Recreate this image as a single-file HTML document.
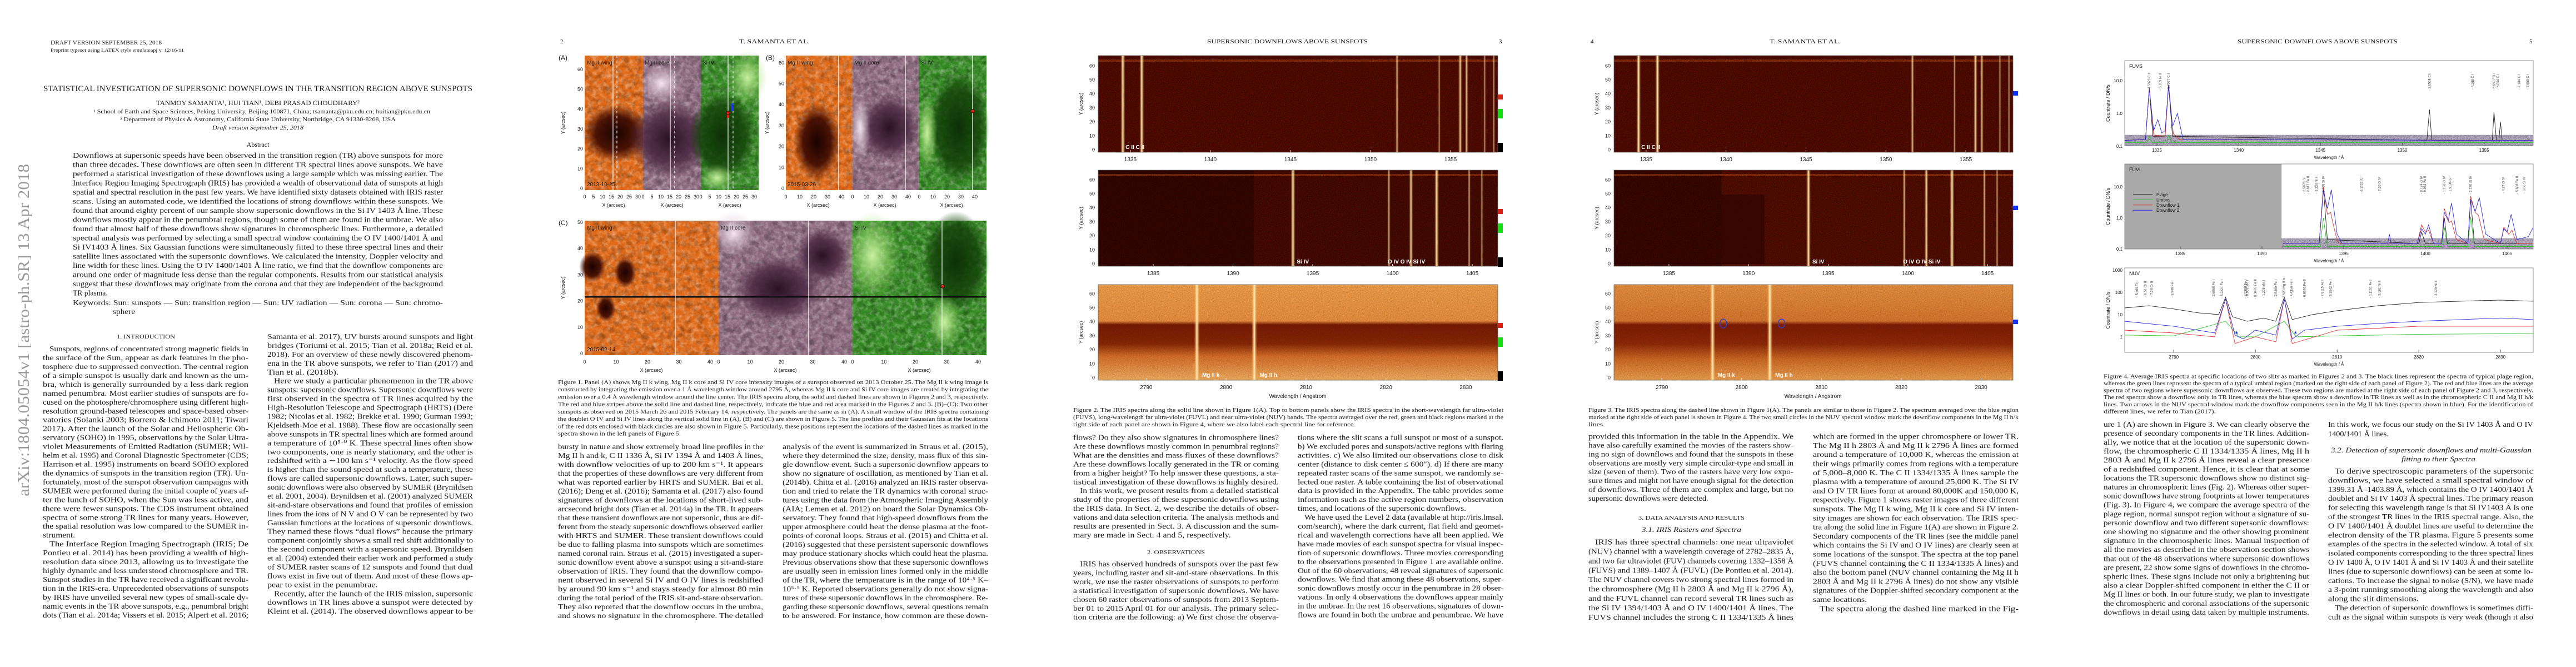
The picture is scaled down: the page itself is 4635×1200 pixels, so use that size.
<!DOCTYPE html>
<html><head><meta charset="utf-8"><title>Supersonic downflows paper pages</title>
<style>html,body{margin:0;padding:0;background:#fff;}svg{display:block;}</style></head>
<body>
<svg id="s" xmlns="http://www.w3.org/2000/svg" width="4635" height="1200" viewBox="0 0 4635 1200">
<defs>
<radialGradient id="spot" cx="50%" cy="50%" r="50%"><stop offset="0" stop-color="#1a0200"/><stop offset="0.6" stop-color="#3a0800" stop-opacity="0.9"/><stop offset="1" stop-color="#3a0800" stop-opacity="0"/></radialGradient>
<radialGradient id="pspot" cx="50%" cy="50%" r="50%"><stop offset="0" stop-color="#2a1025"/><stop offset="0.6" stop-color="#4a2842" stop-opacity="0.85"/><stop offset="1" stop-color="#4a2842" stop-opacity="0"/></radialGradient>
<radialGradient id="gspot" cx="50%" cy="50%" r="50%"><stop offset="0" stop-color="#0c3006"/><stop offset="0.7" stop-color="#124008" stop-opacity="0.8"/><stop offset="1" stop-color="#124008" stop-opacity="0"/></radialGradient>
<radialGradient id="glight" cx="50%" cy="50%" r="50%"><stop offset="0" stop-color="#c8f0a0"/><stop offset="1" stop-color="#a0e070" stop-opacity="0"/></radialGradient>
<radialGradient id="plight" cx="50%" cy="50%" r="50%"><stop offset="0" stop-color="#f4e6f0"/><stop offset="1" stop-color="#e0c8d8" stop-opacity="0"/></radialGradient>
<linearGradient id="nuv3" x1="0" y1="0" x2="0" y2="1"><stop offset="0" stop-color="#f2a04a"/><stop offset="0.38" stop-color="#eb9040"/><stop offset="0.42" stop-color="#7a1a04"/><stop offset="0.62" stop-color="#8a2806"/><stop offset="0.75" stop-color="#d8702a"/><stop offset="1" stop-color="#f4b060"/></linearGradient>
<linearGradient id="nuv4" x1="0" y1="0" x2="0" y2="1"><stop offset="0" stop-color="#e89040"/><stop offset="0.38" stop-color="#d87830"/><stop offset="0.42" stop-color="#801c04"/><stop offset="0.62" stop-color="#902a08"/><stop offset="0.78" stop-color="#d06a24"/><stop offset="1" stop-color="#eea050"/></linearGradient>
<linearGradient id="lineglow" x1="0" y1="0" x2="1" y2="0"><stop offset="0" stop-color="#ffb040" stop-opacity="0"/><stop offset="0.5" stop-color="#fff0c0"/><stop offset="1" stop-color="#ffb040" stop-opacity="0"/></linearGradient>
<filter id="fine" x="0" y="0" width="100%" height="100%"><feTurbulence type="fractalNoise" baseFrequency="0.8" numOctaves="2" seed="3"/><feColorMatrix type="matrix" values="0 0 0 0 0  0 0 0 0 0  0 0 0 0 0  1.6 0 0 0 -0.55"/></filter>
<filter id="coarse" x="0" y="0" width="100%" height="100%"><feTurbulence type="fractalNoise" baseFrequency="0.12" numOctaves="3" seed="7"/><feColorMatrix type="matrix" values="0 0 0 0 1  0 0 0 0 1  0 0 0 0 1  1.4 0 0 0 -0.55"/></filter>
<filter id="coarseDark" x="0" y="0" width="100%" height="100%"><feTurbulence type="fractalNoise" baseFrequency="0.09" numOctaves="3" seed="11"/><feColorMatrix type="matrix" values="0 0 0 0 0  0 0 0 0 0  0 0 0 0 0  1.4 0 0 0 -0.6"/></filter>
</defs>
</svg>
<script>
const NS='http://www.w3.org/2000/svg';
const S=document.getElementById('s');
function mk(tag,a,name,p){const e=document.createElementNS(NS,tag);for(const k in a)e.setAttribute(k,a[k]);


(p||S).appendChild(e);return e;}
function T(x,y,s,fs,o){o=o||{};const a={x:x,y:y,'font-size':fs,'font-family':o.ff||'"Liberation Serif", serif',fill:o.fill||'#1a1a1a'};
if(o.anchor)a['text-anchor']=o.anchor;if(o.italic)a['font-style']='italic';if(o.bold)a['font-weight']='bold';if(o.rot!==undefined)a.transform='rotate('+o.rot+' '+x+' '+y+')';
const e=mk('text',a,o.name||'text-line',o.p);if(o.len){e.setAttribute('textLength',o.len);e.setAttribute('lengthAdjust','spacingAndGlyphs');}e.textContent=s;return e;}
function col(name,x,w,y0,step,lines,fs){
  const just=lines.filter(s=>!s.endsWith('|')).map(s=>s.replace(/^\^/,''));
  const avg=just.reduce((a,s)=>a+s.length,0)/Math.max(1,just.length);
  lines.forEach((s,i)=>{const ind=s[0]==='^',last=s.endsWith('|');s=s.replace(/^\^/,'').replace(/\|$/,'');
    const xx=x+(ind?12:0),ww=w-(ind?12:0);const len=last?Math.min(ww,s.length*w/avg):ww;
    T(xx,y0+i*step+fs*0.36,s,fs,{len:len,name:name+'-line'});});
}
/* ---------------- PAGE 1 ---------------- */
T(91,80,'DRAFT VERSION SEPTEMBER 25, 2018',10,{len:200,name:'draft-header'});
T(91,93,'Preprint typeset using LATEX style emulateapj v. 12/16/11',8,{len:240,name:'preprint-note'});
T(78,164,'STATISTICAL INVESTIGATION OF SUPERSONIC DOWNFLOWS IN THE TRANSITION REGION ABOVE SUNSPOTS',15,{len:772,name:'paper-title'});
T(281,189,'TANMOY SAMANTA¹, HUI TIAN¹, DEBI PRASAD CHOUDHARY²',12,{len:366,name:'authors'});
T(168,204,'¹ School of Earth and Space Sciences, Peking University, Beijing 100871, China; tsamanta@pku.edu.cn; huitian@pku.edu.cn',10,{len:606,name:'affiliation-1'});
T(216,218,'² Department of Physics & Astronomy, California State University, Northridge, CA 91330-8268, USA',10,{len:496,name:'affiliation-2'});
T(382,233,'Draft version September 25, 2018',10,{len:164,italic:true,name:'draft-date'});
T(464,264,'Abstract',12,{anchor:'middle',name:'abstract-heading'});
const abstractLines=["Downflows at supersonic speeds have been observed in the transition region (TR) above sunspots for more","than three decades. These downflows are often seen in different TR spectral lines above sunspots. We have","performed a statistical investigation of these downflows using a large sample which was missing earlier. The","Interface Region Imaging Spectrograph (IRIS) has provided a wealth of observational data of sunspots at high","spatial and spectral resolution in the past few years. We have identified sixty datasets obtained with IRIS raster","scans. Using an automated code, we identified the locations of strong downflows within these sunspots. We","found that around eighty percent of our sample show supersonic downflows in the Si IV 1403 Å line. These","downflows mostly appear in the penumbral regions, though some of them are found in the umbrae. We also","found that almost half of these downflows show signatures in chromospheric lines. Furthermore, a detailed","spectral analysis was performed by selecting a small spectral window containing the O IV 1400/1401 Å and","Si IV1403 Å lines. Six Gaussian functions were simultaneously fitted to these three spectral lines and their","satellite lines associated with the supersonic downflows. We calculated the intensity, Doppler velocity and","line width for these lines. Using the O IV 1400/1401 Å line ratio, we find that the downflow components are","around one order of magnitude less dense than the regular components. Results from our statistical analysis","suggest that these downflows may originate from the corona and that they are independent of the background","TR plasma.|"];
col('abstract',131,666,279,16.5,abstractLines,14);
T(131,549,'Keywords: Sun: sunspots — Sun: transition region — Sun: UV radiation — Sun: corona — Sun: chromo-',14,{len:666,name:'keywords'});
T(203,565,'sphere',14,{len:40,name:'keywords'});
T(52,893,'arXiv:1804.05054v1  [astro-ph.SR]  13 Apr 2018',29,{len:598,rot:-90,fill:'#9a9a9a',name:'arxiv-stamp'});
T(210,609,'1. INTRODUCTION',10,{len:105,name:'section-heading'});
col('intro-col1',77,370,627,15.96,["^Sunspots, regions of concentrated strong magnetic fields in","the surface of the Sun, appear as dark features in the pho-","tosphere due to suppressed convection. The central region","of a simple sunspot is usually dark and known as the um-","bra, which is generally surrounded by a less dark region","named penumbra. Most earlier studies of sunspots are fo-","cused on the photosphere/chromosphere using different high-","resolution ground-based telescopes and space-based obser-","vatories (Solanki 2003; Borrero & Ichimoto 2011; Tiwari","2017). After the launch of the Solar and Heliospheric Ob-","servatory (SOHO) in 1995, observations by the Solar Ultra-","violet Measurements of Emitted Radiation (SUMER; Wil-","helm et al. 1995) and Coronal Diagnostic Spectrometer (CDS;","Harrison et al. 1995) instruments on board SOHO explored","the dynamics of sunspots in the transition region (TR). Un-","fortunately, most of the sunspot observation campaigns with","SUMER were performed during the initial couple of years af-","ter the lunch of SOHO, when the Sun was less active, and","there were fewer sunspots. The CDS instrument obtained","spectra of some strong TR lines for many years. However,","the spatial resolution was low compared to the SUMER in-","strument.|","^The Interface Region Imaging Spectrograph (IRIS; De","Pontieu et al. 2014) has been providing a wealth of high-","resolution data since 2013, allowing us to investigate the","highly dynamic and less understood chromosphere and TR.","Sunspot studies in the TR have received a significant revolu-","tion in the IRIS-era. Unprecedented observations of sunspots","by IRIS have unveiled several new types of small-scale dy-","namic events in the TR above sunspots, e.g., penumbral bright","dots (Tian et al. 2014a; Vissers et al. 2015; Alpert et al. 2016;"],14);
col('intro-col2',481,370,605,15.94,["Samanta et al. 2017), UV bursts around sunspots and light","bridges (Toriumi et al. 2015; Tian et al. 2018a; Reid et al.","2018). For an overview of these newly discovered phenom-","ena in the TR above sunspots, we refer to Tian (2017) and","Tian et al. (2018b).|","^Here we study a particular phenomenon in the TR above","sunspots: supersonic downflows. Supersonic downflows were","first observed in the spectra of TR lines acquired by the","High-Resolution Telescope and Spectrograph (HRTS) (Dere","1982; Nicolas et al. 1982; Brekke et al. 1990; Gurman 1993;","Kjeldseth-Moe et al. 1988). These flow are occasionally seen","above sunspots in TR spectral lines which are formed around","a temperature of 10⁵·⁰ K. These spectral lines often show","two components, one is nearly stationary, and the other is","redshifted with a ∼100 km s⁻¹ velocity. As the flow speed","is higher than the sound speed at such a temperature, these","flows are called supersonic downflows. Later, such super-","sonic downflows were also observed by SUMER (Brynildsen","et al. 2001, 2004). Brynildsen et al. (2001) analyzed SUMER","sit-and-stare observations and found that profiles of emission","lines from the ions of N V and O V can be represented by two","Gaussian functions at the locations of supersonic downflows.","They named these flows “dual flows” because the primary","component conjointly shows a small red shift additionally to","the second component with a supersonic speed. Brynildsen","et al. (2004) extended their earlier work and performed a study","of SUMER raster scans of 12 sunspots and found that dual","flows exist in five out of them. And most of these flows ap-","pear to exist in the penumbrae.|","^Recently, after the launch of the IRIS mission, supersonic","downflows in TR lines above a sunspot were detected by","Kleint et al. (2014). The observed downflows appear to be"],14);

/* ---------------- PAGE 2 : Figure 1 ---------------- */
T(1008,78,'2',11,{name:'page-number'});
T(1330,78,'T. SAMANTA ET AL.',11,{len:127,name:'running-header'});
function panel(x,y,w,h,kind,name){
  const g=mk('g',{},name);
  const base={wing:'#e06a18',core:'#8e6a80',si:'#348a22'}[kind];
  mk('rect',{x:x,y:y,width:w,height:h,fill:base},name+'-bg',g);
  mk('rect',{x:x,y:y,width:w,height:h,filter:'url(#coarse)',opacity:0.55},name+'-texture-light',g);
  mk('rect',{x:x,y:y,width:w,height:h,filter:'url(#coarseDark)',opacity:0.45},name+'-texture-dark',g);
  return g;
}
function blob(g,cx,cy,rx,ry,grad,name){mk('ellipse',{cx:cx,cy:cy,rx:rx,ry:ry,fill:'url(#'+grad+')'},name,g);}
// Row A
let g=panel(1052,100,105,242,'wing','panel-a-mg-wing');blob(g,1108,240,60,52,'spot','umbra');
g=panel(1157,100,104,242,'core','panel-a-mg-core');blob(g,1205,250,75,70,'pspot','umbra');blob(g,1190,150,40,35,'plight','plage');
g=panel(1261,100,104,242,'si','panel-a-si-iv');blob(g,1300,245,60,80,'gspot','umbra');blob(g,1345,140,35,50,'glight','loops');blob(g,1290,320,30,25,'glight','loops');
// Row B
g=panel(1414,100,120,242,'wing','panel-b-mg-wing');blob(g,1470,255,42,70,'spot','umbra');
g=panel(1534,100,120,242,'core','panel-b-mg-core');blob(g,1600,230,55,60,'pspot','umbra');blob(g,1548,230,18,60,'plight','plage');
g=panel(1654,100,121,242,'si','panel-b-si-iv');blob(g,1725,230,55,100,'gspot','umbra');blob(g,1668,240,18,70,'glight','plage');
// Row C
g=panel(1052,397,241,242,'wing','panel-c-mg-wing');blob(g,1066,480,24,28,'spot','umbra');blob(g,1125,490,20,28,'spot','umbra');blob(g,1090,555,18,24,'spot','umbra');
g=panel(1293,397,241,242,'core','panel-c-mg-core');blob(g,1480,460,50,50,'pspot','umbra');blob(g,1320,420,40,40,'plight','plage');blob(g,1400,520,80,60,'pspot','penumbra');
g=panel(1534,397,241,242,'si','panel-c-si-iv');blob(g,1570,460,50,80,'glight','plage');blob(g,1720,470,60,90,'gspot','umbra');blob(g,1700,580,30,50,'glight','loop');
mk('rect',{x:1052,y:533,width:723,height:2.5,fill:'#111'},'data-gap-line');
// slit lines
const slitX=[1103,1206,1310,1509,1629,1750,1215,1455,1695];
const slitY0=[100,100,100,100,100,100,397,397,397];
slitX.forEach((x,i)=>{mk('line',{x1:x,y1:slitY0[i],x2:x,y2:slitY0[i]+242,stroke:'#fff','stroke-width':1.2},'solid-slit-line');});
[1110,1214,1319].forEach(x=>{mk('line',{x1:x,y1:100,x2:x,y2:342,stroke:'#fff','stroke-width':1.2,'stroke-dasharray':'5 4'},'dashed-slit-line');});
mk('rect',{x:1316,y:186,width:4,height:14,fill:'#1c3cf0'},'blue-stripe');
mk('rect',{x:1308,y:200,width:4,height:12,fill:'#e02010'},'red-stripe');
[[1310,203],[1750,200],[1696,515]].forEach(p=>{mk('circle',{cx:p[0],cy:p[1],r:3.2,fill:'#e02010',stroke:'#111','stroke-width':0.8},'downflow-dot');});
// panel labels
[['Mg II wing',1056],['Mg II core',1160],['Si IV',1264],['Mg II wing',1417],['Mg II core',1537],['Si IV',1657]].forEach(l=>T(l[1],116,l[0],10,{ff:'"Liberation Sans", sans-serif',name:'panel-label'}));
[['Mg II wing',1056],['Mg II core',1297],['Si IV',1538]].forEach(l=>T(l[1],413,l[0],10,{ff:'"Liberation Sans", sans-serif',name:'panel-label'}));
T(1056,335,'2013-10-25',10,{ff:'"Liberation Sans", sans-serif',name:'date-label'});
T(1417,335,'2015-03-26',10,{ff:'"Liberation Sans", sans-serif',name:'date-label'});
T(1056,632,'2015-02-14',10,{ff:'"Liberation Sans", sans-serif',name:'date-label'});
T(1005,108,'(A)',12,{ff:'"Liberation Sans", sans-serif',name:'panel-tag'});
T(1378,108,'(B)',12,{ff:'"Liberation Sans", sans-serif',name:'panel-tag'});
T(1005,405,'(C)',12,{ff:'"Liberation Sans", sans-serif',name:'panel-tag'});
const fig1YTicksA=[0,10,20,30,40,50,60];
const fig1YTicksC=[0,10,20,30,40,50];
fig1YTicksA.forEach(v=>{T(1049,339-v*3.57+3,String(v),9,{anchor:'end',ff:'"Liberation Sans", sans-serif',name:'y-tick-label'});T(1411,339-v*3.77+3,String(v),9,{anchor:'end',ff:'"Liberation Sans", sans-serif',name:'y-tick-label'});});
fig1YTicksC.forEach(v=>T(1049,636-v*4.72+3,String(v),9,{anchor:'end',ff:'"Liberation Sans", sans-serif',name:'y-tick-label'}));
[[1016,221],[1383,221],[1016,518]].forEach(p=>T(p[0],p[1],'Y (arcsec)',9,{anchor:'middle',rot:-90,ff:'"Liberation Sans", sans-serif',name:'y-axis-title'}));
const fig1XTicksA=[0,5,10,15,20,25,30];
const fig1XTicks=[0,10,20,30,40];
[1052,1157,1261].forEach(x0=>{fig1XTicksA.forEach(v=>T(x0+v*3.2,357,String(v),9,{anchor:'middle',ff:'"Liberation Sans", sans-serif',name:'x-tick-label'}));T(x0+52,372,'X (arcsec)',9,{anchor:'middle',ff:'"Liberation Sans", sans-serif',name:'x-axis-title'});});
[1414,1534,1654].forEach(x0=>{fig1XTicks.forEach(v=>T(x0+v*2.5,357,String(v),9,{anchor:'middle',ff:'"Liberation Sans", sans-serif',name:'x-tick-label'}));T(x0+58,372,'X (arcsec)',9,{anchor:'middle',ff:'"Liberation Sans", sans-serif',name:'x-axis-title'});});
[1052,1293,1534].forEach(x0=>{fig1XTicks.forEach(v=>T(x0+v*5.65,654,String(v),9,{anchor:'middle',ff:'"Liberation Sans", sans-serif',name:'x-tick-label'}));T(x0+120,669,'X (arcsec)',9,{anchor:'middle',ff:'"Liberation Sans", sans-serif',name:'x-axis-title'});});
col('fig1-caption',1004,774,687,13.25,["Figure 1. Panel (A) shows Mg II k wing, Mg II k core and Si IV core intensity images of a sunspot observed on 2013 October 25. The Mg II k wing image is","constructed by integrating the emission over a 1 Å wavelength window around 2795 Å, whereas Mg II k core and Si IV core images are created by integrating the","emission over a 0.4 Å wavelength window around the line center. The IRIS spectra along the solid and dashed lines are shown in Figures 2 and 3, respectively.","The red and blue stripes above the solid line and dashed line, respectively, indicate the blue and red area marked in the Figures 2 and 3. (B)–(C): Two other","sunspots as observed on 2015 March 26 and 2015 February 14, respectively. The panels are the same as in (A). A small window of the IRIS spectra containing","the doublet O IV and Si IV lines along the vertical solid line in (A), (B) and (C) are shown in Figure 5. The line profiles and their Gaussian fits at the locations","of the red dots enclosed with black circles are also shown in Figure 5. Particularly, these positions represent the locations of the dashed lines as marked in the","spectra shown in the left panels of Figure 5.|"],10.5);
col('page2-col1',1004,369,803,16.0,["bursty in nature and show extremely broad line profiles in the","Mg II h and k, C II 1336 Å, Si IV 1394 Å and 1403 Å lines,","with downflow velocities of up to 200 km s⁻¹. It appears","that the properties of these downflows are very different from","what was reported earlier by HRTS and SUMER. Bai et al.","(2016); Deng et al. (2016); Samanta et al. (2017) also found","signatures of downflows at the locations of short-lived sub-","arcsecond bright dots (Tian et al. 2014a) in the TR. It appears","that these transient downflows are not supersonic, thus are dif-","ferent from the steady supersonic downflows observed earlier","with HRTS and SUMER. These transient downflows could","be due to falling plasma into sunspots which are sometimes","named coronal rain. Straus et al. (2015) investigated a super-","sonic downflow event above a sunspot using a sit-and-stare","observation of IRIS. They found that the downflow compo-","nent observed in several Si IV and O IV lines is redshifted","by around 90 km s⁻¹ and stays steady for almost 80 min","during the total period of the IRIS sit-and-stare observation.","They also reported that the downflow occurs in the umbra,","and shows no signature in the chromosphere. The detailed"],14);
col('page2-col2',1408,370,803,16.0,["analysis of the event is summarized in Straus et al. (2015),","where they determined the size, density, mass flux of this sin-","gle downflow event. Such a supersonic downflow appears to","show no signature of oscillation, as mentioned by Tian et al.","(2014b). Chitta et al. (2016) analyzed an IRIS raster observa-","tion and tried to relate the TR dynamics with coronal struc-","tures using the data from the Atmospheric Imaging Assembly","(AIA; Lemen et al. 2012) on board the Solar Dynamics Ob-","servatory. They found that high-speed downflows from the","upper atmosphere could heat the dense plasma at the foot-","points of coronal loops. Straus et al. (2015) and Chitta et al.","(2016) suggested that these persistent supersonic downflows","may produce stationary shocks which could heat the plasma.","Previous observations show that these supersonic downflows","are usually seen in emission lines formed only in the middle","of the TR, where the temperature is in the range of 10⁴·⁵ K–","10⁵·⁵ K. Reported observations generally do not show signa-","tures of these supersonic downflows in the chromosphere. Re-","garding these supersonic downflows, several questions remain","to be answered. For instance, how common are these down-"],14);

/* ---------------- PAGES 3-4 : spectral images ---------------- */
const fuvsLines=[1334.53,1335.71,1351.66,1354.29,1355.6,1356.0,1357.13,1357.7];
const fuvsInt=[1,1,0.6,0.3,0.75,0.6,0.3,0.3];
const fuvlLines=[1393.76,1399.77,1401.16,1402.77,1404.8,1405.6];
const fuvlInt=[1,0.5,0.8,1,0.45,0.35];
const nuvLines=[2796.35,2803.53];
const nuvInt=[1,1];
const heatYTicks=[0,10,20,30,40,50,60];
const fuvsTicks=[1335,1340,1345,1350,1355];
const fuvlTicks=[1385,1390,1395,1400,1405];
const nuvTicks=[2790,2800,2810,2820,2830];
function heat(x0,x1,y0,y1,l0,l1,lines,ints,ticks,bg,name,fuvlStart){
  const g=mk('g',{},name);
  const xs=l=>x0+(l-l0)/(l1-l0)*(x1-x0);
  mk('rect',{x:x0,y:y0,width:x1-x0,height:y1-y0,fill:bg},name+'-background',g);
  if(fuvlStart){mk('rect',{x:x0,y:y0,width:xs(fuvlStart)-x0,height:y1-y0,fill:'#2c0400',opacity:0.6},'no-data-region',g);}
  const isNuv=bg.indexOf('url')>=0;
  if(!isNuv) mk('rect',{x:x0,y:y0+7,width:x1-x0,height:4,fill:'#c8501a',opacity:0.5},'bright-row',g);
  mk('rect',{x:x0,y:y0,width:x1-x0,height:y1-y0,filter:'url(#fine)',opacity:isNuv?0.25:0.7},'noise-texture',g);
  lines.forEach((l,i)=>{const x=xs(l);const w=isNuv?5:1.5+2.5*ints[i];
    mk('rect',{x:x-w,y:y0,width:2*w,height:y1-y0,fill:'url(#lineglow)',opacity:0.45+0.55*ints[i]},'emission-line',g);});
  mk('rect',{x:x0,y:y0,width:x1-x0,height:y1-y0,fill:'none',stroke:'#666','stroke-width':0.8},name+'-frame',g);
  ticks.forEach(t=>{T(xs(t),y1+16,String(t),10,{anchor:'middle',ff:'"Liberation Sans", sans-serif',name:'x-tick-label'});mk('line',{x1:xs(t),y1:y1,x2:xs(t),y2:y1-4,stroke:'#ddd'},'x-tick',g);});
  heatYTicks.forEach(v=>T(x0-6,y1-5-v*2.52+3.5,String(v),9,{anchor:'end',ff:'"Liberation Sans", sans-serif',name:'y-tick-label'}));
  T(x0-28,(y0+y1)/2,'Y (arcsec)',9,{anchor:'middle',rot:-90,ff:'"Liberation Sans", sans-serif',name:'y-axis-title'});
  return xs;
}
// Page 3
T(2172,78,'SUPERSONIC DOWNFLOWS ABOVE SUNSPOTS',11,{len:289,name:'running-header'});
T(2697,78,'3',11,{name:'page-number'});
let xs=heat(1976,2695,100,274,1332.99,1357.95,fuvsLines,fuvsInt,fuvsTicks,'#5a0c02','fig2-fuvs-panel');
T(xs(1334.7),268,'C II  C II',10,{fill:'#fff',bold:true,ff:'"Liberation Sans", sans-serif',name:'line-label'});
xs=heat(1976,2695,306,479,1381.55,1406.6,fuvlLines,fuvlInt,fuvlTicks,'#4e0b02','fig2-fuvl-panel',1391.3);
T(xs(1394.0),474,'Si IV',10,{fill:'#fff',bold:true,ff:'"Liberation Sans", sans-serif',name:'line-label'});
T(xs(1399.7),474,'O IV  O IV  Si IV',10,{fill:'#fff',bold:true,ff:'"Liberation Sans", sans-serif',name:'line-label'});
xs=heat(1976,2695,512,684,2784.0,2834.0,nuvLines,nuvInt,nuvTicks,'url(#nuv3)','fig2-nuv-panel');
T(xs(2797),678,'Mg II k',10,{fill:'#fff',bold:true,ff:'"Liberation Sans", sans-serif',name:'line-label'});
T(xs(2804.2),678,'Mg II h',10,{fill:'#fff',bold:true,ff:'"Liberation Sans", sans-serif',name:'line-label'});
T(2335,716,'Wavelength / Angstrom',10,{anchor:'middle',ff:'"Liberation Sans", sans-serif',name:'x-axis-title'});
[0,206,411].forEach(d=>{mk('rect',{x:2695,y:170+d,width:9,height:9,fill:'#e02010'},'plage-marker');mk('rect',{x:2695,y:196+d,width:9,height:17,fill:'#10e010'},'umbra-marker');mk('rect',{x:2695,y:257+d,width:9,height:17,fill:'#000'},'black-marker');});
col('fig2-caption',1931,774,737,13.2,["Figure 2. The IRIS spectra along the solid line shown in Figure 1(A). Top to bottom panels show the IRIS spectra in the short-wavelength far ultra-violet","(FUVS), long-wavelength far ultra-violet (FUVL) and near ultra-violet (NUV) bands. The spectra averaged over the red, green and black regions marked at the","right side of each panel are shown in Figure 4, where we also label each spectral line for reference.|"],10.5);
col('page3-col1',1931,370,786.5,15.95,["flows? Do they also show signatures in chromosphere lines?","Are these downflows mostly common in penumbral regions?","What are the densities and mass fluxes of these downflows?","Are these downflows locally generated in the TR or coming","from a higher height? To help answer these questions, a sta-","tistical investigation of these downflows is highly desired.|","^In this work, we present results from a detailed statistical","study of the properties of these supersonic downflows using","the IRIS data. In Sect. 2, we describe the details of obser-","vations and data selection criteria. The analysis methods and","results are presented in Sect. 3. A discussion and the sum-","mary are made in Sect. 4 and 5, respectively.|"],14);
T(2064,997,'2. OBSERVATIONS',10,{len:104,name:'section-heading'});
col('page3-col1b',1931,370,1014,15.95,["^IRIS has observed hundreds of sunspots over the past few","years, including raster and sit-and-stare observations. In this","work, we use the raster observations of sunspots to perform","a statistical investigation of supersonic downflows. We have","chosen 60 raster observations of sunspots from 2013 Septem-","ber 01 to 2015 April 01 for our analysis. The primary selec-","tion criteria are the following: a) We first chose the observa-"],14);
col('page3-col2',2335,370,786.5,15.95,["tions where the slit scans a full sunspot or most of a sunspot.","b) We excluded pores and sunspots/active regions with flaring","activities. c) We also limited our observations close to disk","center (distance to disk center ≤ 600″). d) If there are many","repeated raster scans of the same sunspot, we randomly se-","lected one raster. A table containing the list of observational","data is provided in the Appendix. The table provides some","information such as the active region numbers, observation","times, and locations of the supersonic downflows.|","^We have used the Level 2 data (available at http://iris.lmsal.","com/search), where the dark current, flat field and geomet-","rical and wavelength corrections have all been applied. We","have made movies of each sunspot spectra for visual inspec-","tion of supersonic downflows. Three movies corresponding","to the observations presented in Figure 1 are available online.","Out of the 60 observations, 48 reveal signatures of supersonic","downflows. We find that among these 48 observations, super-","sonic downflows mostly occur in the penumbrae in 28 obser-","vations. In only 4 observations the downflows appear mainly","in the umbrae. In the rest 16 observations, signatures of down-","flows are found in both the umbrae and penumbrae. We have"],14);
// Page 4
T(2862,78,'4',11,{name:'page-number'});
T(3184,78,'T. SAMANTA ET AL.',11,{len:128,name:'running-header'});
xs=heat(2904,3622,100,274,1332.99,1357.95,fuvsLines,fuvsInt,fuvsTicks,'#5a0c02','fig3-fuvs-panel');
T(xs(1334.7),268,'C II  C II',10,{fill:'#fff',bold:true,ff:'"Liberation Sans", sans-serif',name:'line-label'});
xs=heat(2904,3622,306,479,1381.55,1406.6,fuvlLines,fuvlInt,fuvlTicks,'#5a0e02','fig3-fuvl-panel',1388.3);
mk('rect',{x:xs(1388.3),y:350,width:xs(1391)-xs(1388.3),height:125,fill:'#2a0400',opacity:0.6},'dark-block');
T(xs(1394.0),474,'Si IV',10,{fill:'#fff',bold:true,ff:'"Liberation Sans", sans-serif',name:'line-label'});
T(xs(1399.7),474,'O IV  O IV  Si IV',10,{fill:'#fff',bold:true,ff:'"Liberation Sans", sans-serif',name:'line-label'});
xs=heat(2904,3622,512,684,2784.0,2834.0,nuvLines,nuvInt,nuvTicks,'url(#nuv4)','fig3-nuv-panel');
T(xs(2797),678,'Mg II k',10,{fill:'#fff',bold:true,ff:'"Liberation Sans", sans-serif',name:'line-label'});
T(xs(2804.2),678,'Mg II h',10,{fill:'#fff',bold:true,ff:'"Liberation Sans", sans-serif',name:'line-label'});
[2797.7,2805].forEach(l=>{mk('ellipse',{cx:xs(l),cy:582,rx:6,ry:8,fill:'none',stroke:'#3040d0','stroke-width':1.5},'downflow-circle');});
T(3262,716,'Wavelength / Angstrom',10,{anchor:'middle',ff:'"Liberation Sans", sans-serif',name:'x-axis-title'});
[0,206,411].forEach(d=>{mk('rect',{x:3622,y:164+d,width:9,height:8,fill:'#1030f0'},'downflow-2-marker');});
col('fig3-caption',2858,774,737,13.2,["Figure 3. The IRIS spectra along the dashed line shown in Figure 1(A). The panels are similar to those in Figure 2. The spectrum averaged over the blue region","marked at the right side of each panel is shown in Figure 4. The two small circles in the NUV spectral window mark the downflow components in the Mg II h/k","lines.|"],10.5);
col('page4-col1',2858,369,784.6,15.9,["provided this information in the table in the Appendix. We","have also carefully examined the movies of the rasters show-","ing no sign of downflows and found that the sunspots in these","observations are mostly very simple circular-type and small in","size (seven of them). Two of the rasters have very low expo-","sure times and might not have enough signal for the detection","of downflows. Three of them are complex and large, but no","supersonic downflows were detected.|"],14);
T(2948,935,'3. DATA ANALYSIS AND RESULTS',10,{len:191,name:'section-heading'});
T(2954,957,'3.1. IRIS Rasters and Spectra',13,{len:179,italic:true,name:'subsection-heading'});
col('page4-col1b',2858,369,974.6,16.9,["^IRIS has three spectral channels: one near ultraviolet","(NUV) channel with a wavelength coverage of 2782–2835 Å,","and two far ultraviolet (FUV) channels covering 1332–1358 Å","(FUVS) and 1389–1407 Å (FUVL) (De Pontieu et al. 2014).","The NUV channel covers two strong spectral lines formed in","the chromosphere (Mg II h 2803 Å and Mg II k 2796 Å),","and the FUVL channel can record several TR lines such as","the Si IV 1394/1403 Å and O IV 1400/1401 Å lines. The","FUVS channel includes the strong C II 1334/1335 Å lines"],14);
col('page4-col2',3262,370,784.6,16.3,["which are formed in the upper chromosphere or lower TR.","The Mg II h 2803 Å and Mg II k 2796 Å lines are formed","around a temperature of 10,000 K, whereas the emission at","their wings primarily comes from regions with a temperature","of 5,000–8,000 K. The C II 1334/1335 Å lines sample the","plasma with a temperature of around 25,000 K. The Si IV","and O IV TR lines form at around 80,000K and 150,000 K,","respectively. Figure 1 shows raster images of three different","sunspots. The Mg II k wing, Mg II k core and Si IV inten-","sity images are shown for each observation. The IRIS spec-","tra along the solid line in Figure 1(A) are shown in Figure 2.","Secondary components of the TR lines (see the middle panel","which contains the Si IV and O IV lines) are clearly seen at","some locations of the sunspot. The spectra at the top panel","(FUVS channel containing the C II 1334/1335 Å lines) and","also the bottom panel (NUV channel containing the Mg II h","2803 Å and Mg II k 2796 Å lines) do not show any visible","signatures of the Doppler-shifted secondary component at the","same locations.|","^The spectra along the dashed line marked in the Fig-"],14);

/* ---------------- PAGE 5 : Figure 4 line plots ---------------- */
T(4026,78,'SUPERSONIC DOWNFLOWS ABOVE SUNSPOTS',11,{len:288,name:'running-header'});
T(4551,78,'5',11,{name:'page-number'});
const fuvsPlageW=[1333.0,1334.3,1334.53,1334.75,1335.5,1335.71,1335.95,1351.5,1351.66,1351.8,1355.5,1355.6,1355.75,1355.9,1356.0,1356.1,1358.0];
const fuvsPlageV=[0.15,0.16,6.0,0.2,0.2,7.5,0.2,0.15,1.3,0.15,0.15,1.1,0.15,0.15,0.55,0.15,0.15];
const fuvsUmbraW=[1333.0,1334.4,1334.53,1334.7,1335.6,1335.71,1335.9,1358.0];
const fuvsUmbraV=[0.13,0.13,0.2,0.13,0.13,0.22,0.13,0.13];
const fuvsDf1W=[1333.0,1334.3,1334.53,1334.8,1335.5,1335.71,1336.0,1336.4,1358.0];
const fuvsDf1V=[0.15,0.16,6.0,0.22,0.2,7.5,0.24,0.16,0.15];
const fuvsDf2W=[1333.0,1334.3,1334.53,1334.8,1335.05,1335.3,1335.5,1335.71,1335.95,1336.25,1336.6,1358.0];
const fuvsDf2V=[0.15,0.16,5.5,0.3,0.65,0.25,0.3,7.0,0.4,1.0,0.16,0.15];
const fuvlPlageW=[1391.3,1393.5,1393.76,1394.0,1399.6,1399.77,1400.0,1401.0,1401.16,1401.35,1402.6,1402.77,1403.0,1406.6];
const fuvlPlageV=[0.15,0.15,9.0,0.2,0.15,0.35,0.15,0.15,1.0,0.15,0.15,4.0,0.15,0.15];
const fuvlUmbraW=[1391.3,1393.55,1393.76,1394.0,1401.0,1401.16,1401.35,1402.6,1402.77,1403.0,1406.6];
const fuvlUmbraV=[0.12,0.12,1.0,0.12,0.12,0.5,0.12,0.12,1.1,0.12,0.12];
const fuvlDf1W=[1391.3,1393.5,1393.76,1394.0,1394.2,1394.5,1394.7,1399.5,1399.77,1400.0,1400.2,1400.5,1401.0,1401.16,1401.45,1401.6,1401.9,1402.6,1402.77,1403.05,1403.25,1403.6,1404.6,1404.8,1405.1,1405.3,1405.6,1406.6];
const fuvlDf1V=[0.15,0.15,10,1.3,1.5,0.3,0.15,0.15,0.6,0.35,0.4,0.15,0.15,2.0,0.7,0.8,0.2,0.15,5.0,1.5,1.2,0.2,0.15,0.5,0.3,0.4,0.15,0.15];
const fuvlDf2W=[1391.3,1393.5,1393.76,1394.0,1394.25,1394.6,1394.9,1397.7,1397.8,1397.9,1399.5,1399.77,1400.0,1400.2,1400.5,1401.0,1401.16,1401.4,1401.6,1401.9,1402.6,1402.77,1403.05,1403.3,1403.7,1404.6,1404.8,1405.0,1405.25,1405.6,1406.3,1406.6];
const fuvlDf2V=[0.15,0.15,7.5,2.0,8.0,0.3,0.15,0.15,0.3,0.15,0.15,0.45,0.3,0.6,0.15,0.15,1.5,0.8,3.0,0.3,0.15,4.0,1.6,4.5,0.3,0.15,0.45,0.35,1.3,0.2,0.25,0.5];
const nuvPlageW=[2784,2787,2790,2793,2795.5,2796.35,2797.2,2799,2801,2802.5,2803.53,2804.5,2807,2810,2815,2820,2825,2830,2834];
const nuvPlageV=[20,25,18,12,10,60,8,5,7,5,60,6,10,15,25,35,40,45,40];
const nuvUmbraW=[2784,2790,2796.35,2798,2800,2803.53,2805,2810,2820,2834];
const nuvUmbraV=[1.2,1.1,5,1.0,1.0,5,1.0,1.1,1.3,1.4];
const nuvDf1W=[2784,2790,2795,2796.35,2797.5,2800,2802.5,2803.53,2804.5,2810,2820,2834];
const nuvDf1V=[2,1.5,1,50,0.5,1,0.6,50,0.5,2,3,3];
const nuvDf2W=[2784,2790,2795,2796.35,2797.5,2798.5,2800,2802.5,2803.53,2804.5,2806,2810,2815,2820,2830,2834];
const nuvDf2V=[5,3,1.5,50,1.2,0.8,2,1.2,50,0.8,2,3,4,5,7,6];
const fuvsIds=[1334.53,1335.2,1335.71,1351.66,1354.29,1355.6,1355.84,1357.13,1357.66];
const fuvsIdLabels=['4.5323 C II','5.203 Ni II','5.7077 C II','1.6568 Cl I','4.288 C I','5.5977 O I','5.844 C I','7.134 C I','7.659 C I'];
const fuvlIds=[1392.59,1392.82,1393.33,1393.76,1396.11,1397.2,1399.77,1399.96,1401.16,1401.51,1402.77,1404.78,1405.61,1406.06];
const fuvlIdLabels=['2.5878 S I','2.817 Fe II','3.330 Ni II','3.755 Si IV','6.1122 S I','7.20 O IV','9.774 O IV','9.962 Fe II','1.156 O IV','1.5136 S I','2.770 Si IV','4.77 O IV','5.608 Fe II','6.06 Si IV'];
const nuvIds=[2785.5,2786.5,2787.3,2789.8,2794.9,2795.9,2798.8,2799.0,2800.0,2801.0,2802.5,2803.5,2804.4,2806.0,2808.2,2809.2,2814.1,2815.2,2822.1];
const nuvIdLabels=['5.469 Ti II','6.51 Cr II','7.28 Cr II','9.936 Fe I','2.6068 Fe I','3.2221 Fe I','8.5399 Fe I','9.003 Mn I','0.3476 Fe II','1.208 Mn I','2.5460 Fe I','3.523 Mg II h','4.4350 Fe I','6.8346 Fe II','7.8115 Fe I','9.1542 Fe I','4.1151 Fe I','5.161 Ni II','2.120 Ni II'];
const fuvsYTicks=[0.1,1.0,10.0];
const nuvYTicks=[1,10,100,1000];
const plotColors=['#222','#2ec02e','#e03030','#2a2ae0'];
function plot(o){
  const g=mk('g',{},o.name);
  const xs=l=>o.x0+(l-o.l0)/(o.l1-o.l0)*(o.x1-o.x0);
  const ys=v=>o.y1v-(Math.log10(v))*o.dec;
  const cid='clip-'+o.name;
  const cp=mk('clipPath',{id:cid},'clip-path',g);mk('rect',{x:o.x0,y:o.y0,width:o.x1-o.x0,height:o.y1-o.y0},'clip-rect',cp);
  if(o.gray){mk('rect',{x:o.x0,y:o.y0,width:xs(o.gray)-o.x0,height:o.y1-o.y0,fill:'#a9a9a9'},'no-data-region',g);}
  if(o.noise){const xa=o.gray?xs(o.gray):o.x0;mk('rect',{x:xa,y:ys(0.22),width:o.x1-xa,height:ys(0.1)-ys(0.22),fill:'#6e5c8a',opacity:0.45},'noise-band',g);
    mk('rect',{x:xa,y:ys(0.22),width:o.x1-xa,height:ys(0.1)-ys(0.22),filter:'url(#fine)',opacity:0.5},'noise-texture',g);}
  const pg=mk('g',{'clip-path':'url(#'+cid+')'},'series-group',g);
  o.series.forEach((s,k)=>{const pts=s[0].map((w,i)=>xs(w).toFixed(1)+','+ys(s[1][i]).toFixed(1)).join(' ');
    mk('polyline',{points:pts,fill:'none',stroke:plotColors[k],'stroke-width':0.9},'spectrum-'+['plage','umbra','downflow-1','downflow-2'][k],pg);});
  mk('rect',{x:o.x0,y:o.y0,width:o.x1-o.x0,height:o.y1-o.y0,fill:'none',stroke:'#777','stroke-width':0.8},o.name+'-frame',g);
  o.ticks.forEach(t=>{T(xs(t),o.y1+11,String(t),8,{anchor:'middle',ff:'"Liberation Sans", sans-serif',name:'x-tick-label'});mk('line',{x1:xs(t),y1:o.y1,x2:xs(t),y2:o.y1-5,stroke:'#555'},'x-tick',g);});
  o.yt.forEach(v=>{T(o.x0-4,ys(v)+3,o.ylab(v),8,{anchor:'end',ff:'"Liberation Sans", sans-serif',name:'y-tick-label'});});
  T(o.x0-27,(o.y0+o.y1)/2,'Countrate / DN/s',9,{anchor:'middle',rot:-90,ff:'"Liberation Sans", sans-serif',name:'y-axis-title'});
  T((o.x0+o.x1)/2,o.y1+24,'Wavelength / Å',8,{anchor:'middle',ff:'"Liberation Sans", sans-serif',name:'x-axis-title'});
  T(o.x0+8,o.y0+13,o.label,9,{ff:'"Liberation Sans", sans-serif',name:'panel-label'});
  o.ids.forEach((l,i)=>T(xs(l)+2,o.y0+38,'◦ '+o.idl[i],6,{rot:-90,anchor:'middle',fill:'#444',ff:'"Liberation Sans", sans-serif',name:'line-id-label'}));
  return {xs:xs,ys:ys};
}
plot({name:'fig4-fuvs-plot',x0:3823,x1:4558,y0:109,y1:262,l0:1333.03,l1:1358.0,y1v:204,dec:59,noise:true,label:'FUVS',
  series:[[fuvsPlageW,fuvsPlageV],[fuvsUmbraW,fuvsUmbraV],[fuvsDf1W,fuvsDf1V],[fuvsDf2W,fuvsDf2V]],ticks:fuvsTicks,yt:fuvsYTicks,ylab:v=>v.toFixed(1),ids:fuvsIds,idl:fuvsIdLabels});
plot({name:'fig4-fuvl-plot',x0:3823,x1:4558,y0:295,y1:448,l0:1381.6,l1:1406.6,y1v:392,dec:56,noise:true,gray:1391.2,label:'FUVL',
  series:[[fuvlPlageW,fuvlPlageV],[fuvlUmbraW,fuvlUmbraV],[fuvlDf1W,fuvlDf1V],[fuvlDf2W,fuvlDf2V]],ticks:fuvlTicks,yt:fuvsYTicks,ylab:v=>v.toFixed(1),ids:fuvlIds,idl:fuvlIdLabels});
const nuvP=plot({name:'fig4-nuv-plot',x0:3823,x1:4558,y0:482,y1:634,l0:2784.0,l1:2834.0,y1v:606,dec:40,label:'NUV',
  series:[[nuvPlageW,nuvPlageV],[nuvUmbraW,nuvUmbraV],[nuvDf1W,nuvDf1V],[nuvDf2W,nuvDf2V]],ticks:nuvTicks,yt:nuvYTicks,ylab:v=>String(v),ids:nuvIds,idl:nuvIdLabels});
[2797.7,2804.9].forEach(l=>{T(nuvP.xs(l),600,'▲',8,{anchor:'middle',fill:'#1a2ae0',name:'downflow-arrow'});});
const legendLabels=['Plage','Umbra','Downflow 1','Downflow 2'];
legendLabels.forEach((s,i)=>{const y=350+i*9.4;mk('line',{x1:3838,y1:y,x2:3873,y2:y,stroke:plotColors[i],'stroke-width':1},'legend-swatch');T(3880,y+3,s,8,{ff:'"Liberation Sans", sans-serif',name:'legend-entry'});});
col('fig4-caption',3785,773,676.6,12.6,["Figure 4. Average IRIS spectra at specific locations of two slits as marked in Figures 2 and 3. The black lines represent the spectra of typical plage region,","whereas the green lines represent the spectra of a typical umbral region (marked on the right side of each panel of Figure 2). The red and blue lines are the average","spectra of two regions where supersonic downflows are observed. These two regions are marked at the right side of each panel of Figure 2 and 3, respectively.","The red spectra show a downflow only in TR lines, whereas the blue spectra show a downflow in TR lines as well as in the chromospheric C II and Mg II h/k","lines. Two arrows in the NUV spectral window mark the downflow components seen in the Mg II h/k lines (spectra shown in blue). For the identification of","different lines, we refer to Tian (2017).|"],10.5);
col('page5-col1',3785,370,762.8,16.1,["ure 1 (A) are shown in Figure 3. We can clearly observe the","presence of secondary components in the TR lines. Addition-","ally, we notice that at the location of the supersonic down-","flow, the chromospheric C II 1334/1335 Å lines, Mg II h","2803 Å and Mg II k 2796 Å lines reveal a clear presence","of a redshifted component. Hence, it is clear that at some","locations the TR supersonic downflows show no distinct sig-","natures in chromospheric lines (Fig. 2). Whereas other super-","sonic downflows have strong footprints at lower temperatures","(Fig. 3). In Figure 4, we compare the average spectra of the","plage region, normal sunspot region without a signature of su-","personic downflow and two different supersonic downflows:","one showing no signature and the other showing prominent","signature in the chromospheric lines. Manual inspection of","all the movies as described in the observation section shows","that out of the 48 observations where supersonic downflows","are present, 22 show some signs of downflows in the chromo-","spheric lines. These signs include not only a brightening but","also a clear Doppler-shifted component in either the C II or","Mg II lines or both. In our future study, we plan to investigate","the chromospheric and coronal associations of the supersonic","downflows in detail using data taken by multiple instruments."],14);
col('page5-col2a',4189,369,762.8,17.2,["In this work, we focus our study on the Si IV 1403 Å and O IV","1400/1401 Å lines.|"],14);
T(4194,814,'3.2. Detection of supersonic downflows and multi-Gaussian',13,{len:361,italic:true,name:'subsection-heading'});
T(4321,830,'fitting to their Spectra',13,{len:133,italic:true,name:'subsection-heading'});
col('page5-col2b',4189,369,847,16.4,["^To derive spectroscopic parameters of the supersonic","downflows, we have selected a small spectral window of","1399.31 Å–1403.89 Å, which contains the O IV 1400/1401 Å","doublet and Si IV 1403 Å spectral lines. The primary reason","for selecting this wavelength range is that Si IV1403 Å is one","of the strongest TR lines in the IRIS spectral range. Also, the","O IV 1400/1401 Å doublet lines are useful to determine the","electron density of the TR plasma. Figure 5 presents some","examples of the spectra in the selected window. A total of six","isolated components corresponding to the three spectral lines","O IV 1400 Å, O IV 1401 Å and Si IV 1403 Å and their satellite","lines (due to supersonic downflows) can be seen at some lo-","cations. To increase the signal to noise (S/N), we have made","a 3-point running smoothing along the wavelength and also","along the slit dimensions.|","^The detection of supersonic downflows is sometimes diffi-","cult as the signal within sunspots is very weak (though it also"],14);
</script>
</body></html>
